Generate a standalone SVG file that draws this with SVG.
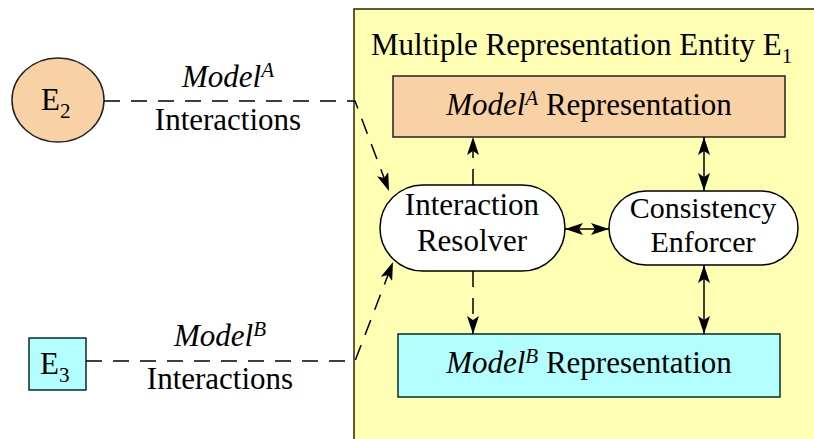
<svg xmlns="http://www.w3.org/2000/svg" width="814" height="439" viewBox="0 0 814 439">
  <defs>
    <marker id="arrow" viewBox="0 0 18 12" refX="18" refY="6" markerWidth="18" markerHeight="12" markerUnits="userSpaceOnUse" orient="auto-start-reverse">
      <path d="M0,0 L18,6 L0,12 L4,6 Z" fill="#000"/>
    </marker>
  </defs>
  <style>
    .t { font-family: 'Liberation Serif', 'DejaVu Serif', serif; font-size: 31px; fill: #000; }
    .it { font-style: italic; }
    .sup { font-size: 21px; font-style: italic; }
    .sub { font-size: 21px; }
    .ce { font-size: 30px; }
    .peach { fill: #f8d1a5; stroke: #222; stroke-width: 1.5; }
    .cyan { fill: #b3ffff; stroke: #0a2a2a; stroke-width: 1.5; }
    .pill { fill: #ffffff; stroke: #000; stroke-width: 1.5; }
    .dash { fill: none; stroke: #000; stroke-width: 1.5; stroke-dasharray: 16 11; }
    .solid { fill: none; stroke: #000; stroke-width: 1.5; }
  </style>

  <rect width="814" height="439" fill="#ffffff"/>

  <g class="t" font-family="Liberation Serif, serif">
  <!-- container entity -->
  <g id="entity-e1">
    <rect x="354" y="9" width="480" height="450" fill="#ffffb3" stroke="#2a2600" stroke-width="1.5"/>
    <text x="371" y="55">Multiple Representation Entity E<tspan class="sub" dy="8">1</tspan></text>
  </g>

  <g id="model-a-rep">
    <rect class="peach" x="393" y="76" width="392" height="61"/>
    <text x="589" y="115" text-anchor="middle"><tspan class="it">Model</tspan><tspan class="sup" dy="-10">A</tspan><tspan dy="10"> Representation</tspan></text>
  </g>

  <g id="interaction-resolver">
    <rect class="pill" x="380" y="185" width="185" height="86" rx="43" ry="43"/>
    <text x="472" y="215" text-anchor="middle">Interaction</text>
    <text x="472" y="251" text-anchor="middle">Resolver</text>
  </g>

  <g id="consistency-enforcer">
    <rect class="pill" x="609" y="191" width="189" height="74" rx="37" ry="37"/>
    <text class="ce" x="703" y="218" text-anchor="middle">Consistency</text>
    <text class="ce" x="703" y="252" text-anchor="middle">Enforcer</text>
  </g>

  <g id="model-b-rep">
    <rect class="cyan" x="398" y="334" width="382" height="63"/>
    <text x="589" y="373" text-anchor="middle"><tspan class="it">Model</tspan><tspan class="sup" dy="-10">B</tspan><tspan dy="10"> Representation</tspan></text>
  </g>

  <g id="e2">
    <ellipse class="peach" cx="58" cy="100" rx="46" ry="42"/>
    <text x="41" y="110">E<tspan class="sub" dy="8">2</tspan></text>
  </g>

  <g id="e3">
    <rect class="cyan" x="29" y="338" width="57" height="52"/>
    <text x="40" y="374">E<tspan class="sub" dy="8">3</tspan></text>
  </g>

  <!-- connectors -->
  <g id="connectors">
    <polyline class="dash" points="104,101 355,101 389,191" marker-end="url(#arrow)"/>
    <polyline class="dash" points="86,361 355,361 393,262" marker-end="url(#arrow)"/>
    <line class="dash" x1="473" y1="185" x2="473" y2="137" marker-end="url(#arrow)"/>
    <line class="dash" x1="473" y1="271" x2="473" y2="334" marker-end="url(#arrow)"/>
    <line class="solid" x1="565" y1="229" x2="609" y2="229" marker-start="url(#arrow)" marker-end="url(#arrow)"/>
    <line class="solid" x1="704" y1="137" x2="704" y2="191" marker-start="url(#arrow)" marker-end="url(#arrow)"/>
    <line class="solid" x1="704" y1="265" x2="704" y2="334" marker-start="url(#arrow)" marker-end="url(#arrow)"/>
  </g>

  <!-- edge labels -->
  <g id="labels">
    <text x="228" y="87" text-anchor="middle"><tspan class="it">Model</tspan><tspan class="sup" dy="-10">A</tspan></text>
    <text x="228" y="130" text-anchor="middle">Interactions</text>
    <text x="220" y="346" text-anchor="middle"><tspan class="it">Model</tspan><tspan class="sup" dy="-10">B</tspan></text>
    <text x="220" y="389" text-anchor="middle">Interactions</text>
  </g>
  </g>
</svg>
